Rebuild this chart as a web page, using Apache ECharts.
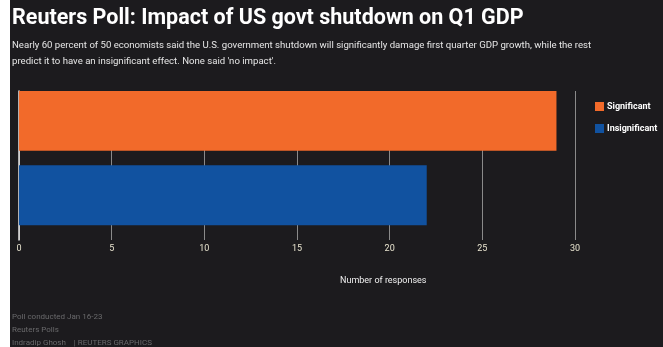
<!DOCTYPE html>
<html>
<head>
<meta charset="utf-8">
<script src="https://cdn.jsdelivr.net/npm/echarts@6/dist/echarts.min.js"></script>
<style>
  html, body { margin: 0; padding: 0; background: #fff; }
  #chart { position: absolute; left: 10px; top: 0; width: 653px; height: 347px; }
</style>
</head>
<body>
<div id="chart"></div>
<script>
// data
var categories = ['Significant', 'Insignificant']
var significantData = [29, '-']
var insignificantData = ['-', 22]
var xTicks = [0, 5, 10, 15, 20, 25, 30]

var bg = '#1c1b1e'
var myChart = echarts.init(document.getElementById('chart'))

option = {
    backgroundColor: bg,
    animation: false,
    title: [
        {
            text: 'Reuters Poll: Impact of US govt shutdown on Q1 GDP',
            left: 2, top: 8, padding: 0,
            textStyle: { color: '#fff', fontFamily: 'Roboto', fontWeight: 'bold', fontSize: 21.5 }
        },
        {
            text: 'Nearly 60 percent of 50 economists said the U.S. government shutdown will significantly damage first quarter GDP growth, while the rest\npredict it to have an insignificant effect. None said \'no impact\'.',
            left: 2, top: 38, padding: 0,
            textStyle: { color: '#e6e6e6', fontFamily: 'Roboto', fontWeight: 'normal', fontSize: 9.6, lineHeight: 16 }
        },
        {
            text: 'Poll conducted Jan 16-23\nReuters Polls\nIndradip Ghosh    | REUTERS GRAPHICS',
            left: 2, top: 310, padding: 0,
            textStyle: { color: '#69696b', fontFamily: 'Roboto', fontWeight: 'normal', fontSize: 8, lineHeight: 13 }
        }
    ],
    legend: {
        orient: 'vertical',
        left: 580, top: 97,
        itemWidth: 9, itemHeight: 9, itemGap: 13,
        icon: 'rect',
        data: categories,
        textStyle: { color: '#fff', fontFamily: 'Roboto', fontWeight: 'bold', fontSize: 9, padding: [0, 0, 0, -2] }
    },
    grid: { left: 9, right: 88, top: 91, bottom: 107 },
    xAxis: {
        type: 'value',
        min: xTicks[0], max: xTicks[xTicks.length - 1], interval: 5,
        axisLine: { show: false },
        axisTick: { show: false },
        axisLabel: { color: '#e8e4cf', fontFamily: 'Roboto', fontSize: 9, margin: 4 },
        splitLine: { show: true, lineStyle: { color: '#8a8a8a', width: 1 } }
    },
    yAxis: {
        type: 'category',
        inverse: true,
        data: categories,
        axisLine: { show: true, lineStyle: { color: '#e6e6e6', width: 1.5 } },
        axisTick: { show: false },
        axisLabel: { show: false },
        splitLine: { show: false }
    },
    graphic: [
        {
            type: 'text',
            left: 330, top: 276,
            style: { text: 'Number of responses', fill: '#f0f0f0', font: '9px Roboto' }
        }
    ],
    series: [
        {
            name: 'Significant', type: 'bar', stack: 'a',
            data: significantData, barWidth: 60, barGap: 0,
            itemStyle: { color: '#f26a2a' }
        },
        {
            name: 'Insignificant', type: 'bar', stack: 'a',
            data: insignificantData, barWidth: 60, barGap: 0,
            itemStyle: { color: '#1152a0' }
        },
        {
            // empty spacer so bars sit at the top of each band
            name: 'spacer', type: 'bar', stack: 'b',
            data: [], barWidth: 15, barGap: 0
        }
    ]
}
myChart.setOption(option)
</script>
</body>
</html>
